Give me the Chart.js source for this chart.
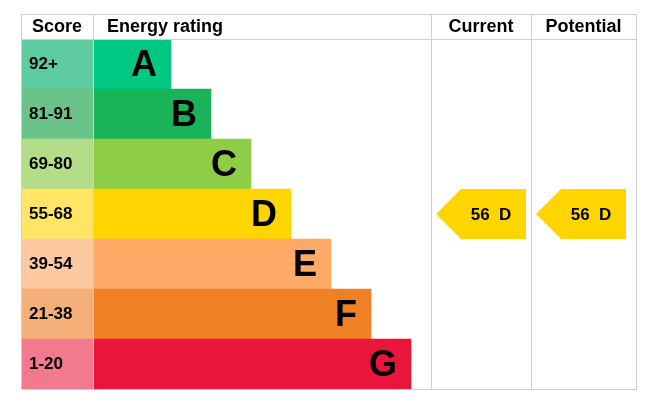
<!DOCTYPE html>
<html><head><meta charset="utf-8">
<script src="https://cdn.jsdelivr.net/npm/chart.js@4"></script>
<style>body{margin:0;background:#fff}#wrap{width:648px;height:403px}</style>
</head><body><div id="wrap"><canvas id="epc"></canvas></div>
<script>
// bands top to bottom
const letters = ['A','B','C','D','E','F','G'];
const scores = ['92+','81-91','69-80','55-68','39-54','21-38','1-20'];
const barEnds = [150, 190, 230, 270, 310, 350, 390]; // x units from table left
const barColors = ['#00c781','#19b459','#8dce46','#ffd500','#fcaa65','#ef8023','#e9153b'];
const scoreColors = ['#5fcba0','#6cc38a','#b4dd8a','#ffe566','#fdc9a0','#f5b07a','#f27a8f'];
const scoreColEnd = 72;
const colLines = [410, 510]; // current / potential column left edges
const current = { value: 56, band: 'D' };
const potential = { value: 56, band: 'D' };

const FONT = 'Liberation Sans, Arial, sans-serif';

const epcPlugin = {
  id: 'epc',
  afterDatasetsDraw(chart) {
    const { ctx, chartArea: a, scales: { x, y } } = chart;
    const rowH = y.getPixelForValue(1) - y.getPixelForValue(0);
    ctx.save();
    // letters and scores
    letters.forEach((l, i) => {
      const cy = y.getPixelForValue(i);
      ctx.fillStyle = '#000';
      ctx.textBaseline = 'middle';
      ctx.font = 'bold 36px ' + FONT;
      ctx.textAlign = 'right';
      ctx.fillText(l, x.getPixelForValue(barEnds[i]) - 14, cy + 2);
      ctx.font = 'bold 17px ' + FONT;
      ctx.textAlign = 'left';
      ctx.fillText(scores[i], a.left + 8, cy);
    });
    // grid
    ctx.strokeStyle = '#d0d0d0';
    ctx.lineWidth = 1;
    const top = a.top - 25;
    ctx.strokeRect(a.left + 0.5, top + 0.5, a.right - a.left, a.bottom - top);
    ctx.beginPath();
    ctx.moveTo(a.left, a.top + 0.5); ctx.lineTo(a.right, a.top + 0.5);
    [scoreColEnd, ...colLines].forEach(v => {
      const px = Math.round(x.getPixelForValue(v)) + 0.5;
      ctx.moveTo(px, top); ctx.lineTo(px, a.bottom);
    });
    ctx.stroke();
    // headers
    ctx.fillStyle = '#000';
    ctx.font = 'bold 18px ' + FONT;
    ctx.textBaseline = 'middle';
    ctx.textAlign = 'center';
    const hy = top + 13;
    ctx.fillText('Score', (a.left + x.getPixelForValue(scoreColEnd)) / 2, hy);
    ctx.fillText('Current', (x.getPixelForValue(colLines[0]) + x.getPixelForValue(colLines[1])) / 2, hy);
    ctx.fillText('Potential', (x.getPixelForValue(colLines[1]) + a.right) / 2, hy);
    ctx.textAlign = 'left';
    ctx.fillText('Energy rating', x.getPixelForValue(scoreColEnd) + 14, hy);
    // arrows
    [[current, colLines[0]], [potential, colLines[1]]].forEach(([r, col]) => {
      const i = letters.indexOf(r.band);
      const cy = y.getPixelForValue(i);
      const l = x.getPixelForValue(col) + 5, rr = x.getPixelForValue(col + 95);
      const h = rowH / 2;
      ctx.fillStyle = barColors[i];
      ctx.beginPath();
      ctx.moveTo(l, cy); ctx.lineTo(l + 25, cy - h); ctx.lineTo(rr, cy - h);
      ctx.lineTo(rr, cy + h); ctx.lineTo(l + 25, cy + h); ctx.closePath(); ctx.fill();
      ctx.fillStyle = '#000';
      ctx.font = 'bold 17px ' + FONT;
      ctx.textAlign = 'center';
      ctx.fillText(r.value + '  ' + r.band, (l + rr) / 2 + 10, cy + 1);
    });
    ctx.restore();
  }
};

new Chart(document.getElementById('epc'), {
  type: 'bar',
  data: {
    labels: letters,
    datasets: [
      { data: letters.map(() => [0, scoreColEnd]), backgroundColor: scoreColors },
      { data: barEnds.map(e => [scoreColEnd, e]), backgroundColor: barColors }
    ]
  },
  options: {
    indexAxis: 'y',
    responsive: true,
    maintainAspectRatio: false,
    animation: false,
    grouped: false,
    barPercentage: 1,
    categoryPercentage: 1,
    layout: { padding: { left: 21, right: 12, top: 39, bottom: 14 } },
    scales: {
      x: { display: false, min: 0, max: 615 },
      y: { display: false }
    },
    plugins: { legend: { display: false }, tooltip: { enabled: false } }
  },
  plugins: [epcPlugin]
});
</script></body></html>
